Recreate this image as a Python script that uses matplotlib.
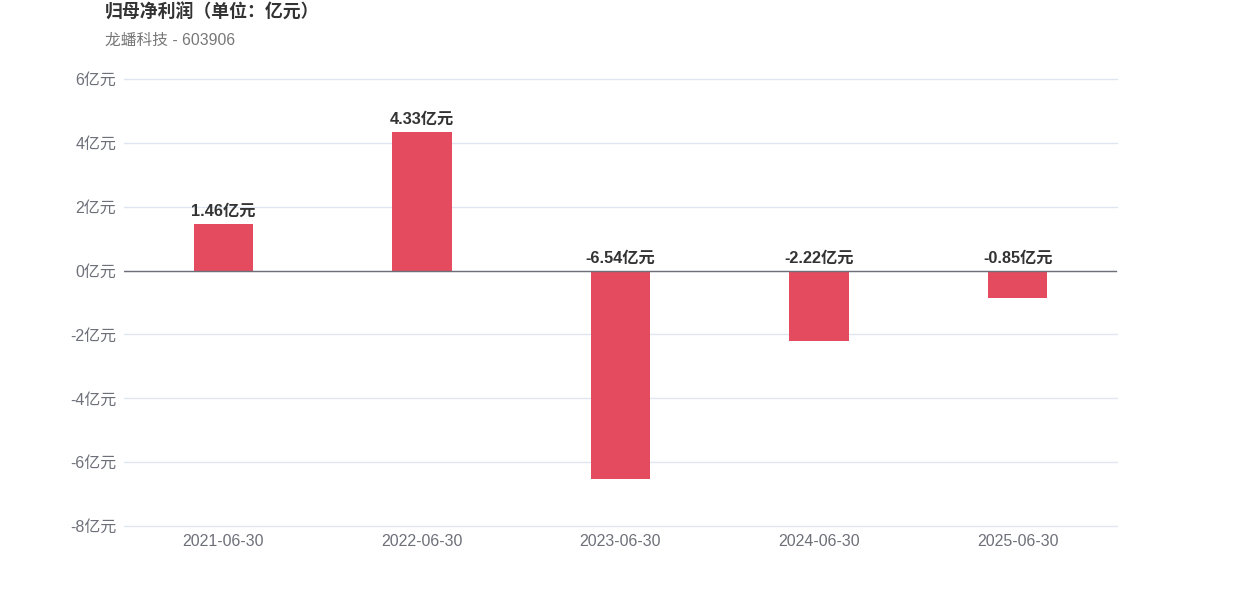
import matplotlib
matplotlib.use("Agg")
import matplotlib.pyplot as plt
from matplotlib.ticker import FixedLocator, FuncFormatter

plt.rcParams['font.family'] = ['Liberation Sans', 'Noto Sans CJK SC', 'DejaVu Sans']

categories = ["2021-06-30", "2022-06-30", "2023-06-30", "2024-06-30", "2025-06-30"]
values = [1.46, 4.33, -6.54, -2.22, -0.85]
yticks = [-8, -6, -4, -2, 0, 2, 4, 6]
title = "归母净利润（单位：亿元）"
subtitle = "龙蟠科技 - 603906"

W, H = 1242, 596
fig = plt.figure(figsize=(W / 100, H / 100), dpi=100)
ax = fig.add_axes([124 / W, 1 - 526 / H, (1117 - 124) / W, (526 - 79) / H])

x = list(range(len(categories)))
ax.bar(x, values, width=0.3, color="#E54B5E", zorder=3)
ax.set_xlim(-0.5, len(categories) - 0.5)
ax.set_ylim(-8, 6)

ax.yaxis.set_major_locator(FixedLocator(yticks))
ax.yaxis.set_major_formatter(FuncFormatter(lambda v, p: f"{int(v)}亿元"))
ax.set_xticks(x)
ax.set_xticklabels(categories)
ax.tick_params(axis='both', length=0, colors="#6E7079", labelsize=11.5)
ax.tick_params(axis='y', pad=5.5)
ax.tick_params(axis='x', pad=6)

for s in ax.spines.values():
    s.set_visible(False)
ax.grid(axis='y', color="#E0E6F1", linewidth=1, zorder=0)
for gl in ax.get_ygridlines():
    gl.set_clip_on(False)
ax.axhline(0, color="#6E7079", linewidth=1, zorder=4)

for xi, v in zip(x, values):
    base = max(v, 0)
    ax.annotate(f"{v:.2f}亿元", (xi, base), xytext=(0, 3.8), textcoords="offset points",
                ha="center", va="bottom", fontsize=11.7, fontweight="bold", color="#333333")

fig.text(105 / W, 1 - 13 / H, title, fontsize=12.9, fontweight="bold", color="#333333",
         ha="left", va="center")
fig.text(105 / W, 1 - 40 / H, subtitle, fontsize=11.3, color="#777777",
         ha="left", va="center")

fig.savefig("out.png", dpi=100)
